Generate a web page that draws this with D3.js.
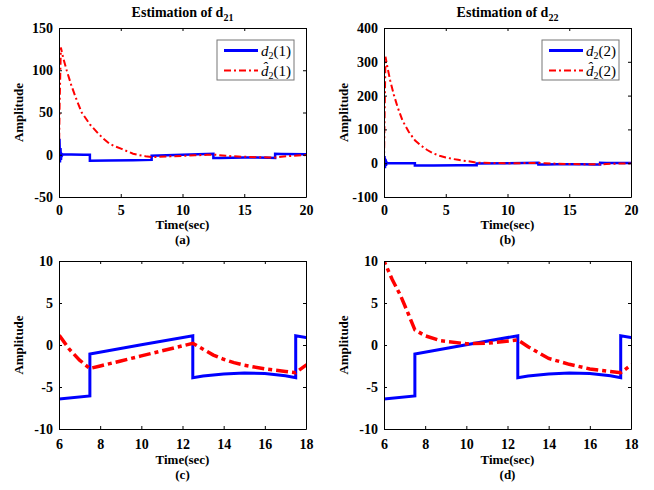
<!DOCTYPE html>
<html>
<head>
<meta charset="utf-8">
<script src="https://cdn.jsdelivr.net/npm/d3@7"></script>
<style>
  body { margin: 0; background: #fff; }
  text { font-family: "Liberation Serif", "Times New Roman", serif; }
</style>
</head>
<body>
<div id="vis"></div>
<script>
// true disturbance, start-up spike differs per component, the rest is shared
var spike21 = [[0, 0], [0.04, 19], [0.08, -9], [0.12, 8], [0.16, -6], [0.2, 2], [0.25, -1], [0.3, 0.3]];
var spike22 = [[0, 0], [0.04, 21], [0.08, -15], [0.12, 12], [0.16, -8], [0.2, 3], [0.25, -1], [0.3, 0.3]];
var dTail = [[1, 0.2], [2, 0], [2.5, -0.1], [2.5, -7], [4, -6.8], [6, -6.43], [7.5, -6.07],
             [7.5, -1.07], [10, 0.02], [12.5, 1.1], [12.5, -3.9], [13, -3.7], [14, -3.45],
             [15, -3.33], [16, -3.4], [17, -3.65], [17.5, -3.9], [17.5, 1.1], [18, 0.9], [20, 0.6]];

// estimates
var est21 = [[0, 0], [0.05, 60], [0.15, 127], [0.35, 114], [0.62, 100], [1, 82], [1.4, 66], [1.84, 50],
             [2.5, 36], [3.18, 25], [3.6, 19], [4.1, 13], [4.6, 9.5], [5.07, 7], [5.5, 4.2], [6, 1.2],
             [6.5, -0.5], [7, -1.8], [7.5, -2.8], [8, -2.5], [9, -1.9], [10, -1.3], [11, -0.7],
             [12, -0.1], [12.5, 0.2], [13, -0.5], [13.5, -1.2], [14, -1.7], [14.5, -2.1], [15, -2.4],
             [16, -2.85], [17, -3.15], [17.5, -3.3], [18, -2.4], [19, -1.1], [20, -0.4]];
var est22 = [[0, 0], [0.05, 150], [0.12, 315], [0.3, 280], [0.5, 245], [0.8, 202], [1.1, 166], [1.5, 126],
             [2, 93], [2.5, 68], [3, 52], [3.5, 39], [4, 29], [4.5, 22], [5, 17], [5.5, 13], [6, 10],
             [6.4, 7.8], [6.8, 5.9], [7.2, 3.6], [7.5, 1.8], [8, 1.1], [8.75, 0.5], [10, 0.15], [11, 0.2],
             [12.5, 0.6], [13, -0.2], [14, -1.6], [15, -2.3], [16, -2.85], [17, -3.15], [17.5, -3.3],
             [18, -2.4], [19, -1.1], [20, -0.4]];

var d21 = spike21.concat(dTail),
    d22 = spike22.concat(dTail);

var xTicksFull = [0, 5, 10, 15, 20],
    xTicksZoom = [6, 8, 10, 12, 14, 16, 18],
    yTicksA = [-50, 0, 50, 100, 150],
    yTicksB = [-100, 0, 100, 200, 300, 400],
    yTicksZoom = [-10, -5, 0, 5, 10];

var svg = d3.select("#vis").append("svg").attr("width", 654).attr("height", 490);
var defs = svg.append("defs");

var panels = [
  {id: "a", x0: 59, x1: 306, y0: 28, y1: 197, xd: [0, 20], yd: [-50, 150], xt: xTicksFull, yt: yTicksA,
   d: d21, e: est21, title: "21", leg: "1", big: false},
  {id: "b", x0: 384, x1: 631, y0: 28, y1: 197, xd: [0, 20], yd: [-100, 400], xt: xTicksFull, yt: yTicksB,
   d: d22, e: est22, title: "22", leg: "2", big: false},
  {id: "c", x0: 59, x1: 306, y0: 261, y1: 429, xd: [6, 18], yd: [-10, 10], xt: xTicksZoom, yt: yTicksZoom,
   d: d21, e: est21, big: true},
  {id: "d", x0: 384, x1: 631, y0: 261, y1: 429, xd: [6, 18], yd: [-10, 10], xt: xTicksZoom, yt: yTicksZoom,
   d: d22, e: est22, big: true}
];

panels.forEach(function (p) {
  var x = d3.scaleLinear().domain(p.xd).range([p.x0, p.x1]),
      y = d3.scaleLinear().domain(p.yd).range([p.y1, p.y0]);
  var g = svg.append("g");

  defs.append("clipPath").attr("id", "clip" + p.id)
    .append("rect").attr("x", p.x0).attr("y", p.y0).attr("width", p.x1 - p.x0).attr("height", p.y1 - p.y0);

  var line = d3.line().x(function (d) { return x(d[0]); }).y(function (d) { return y(d[1]); });

  var lines = g.append("g").attr("clip-path", "url(#clip" + p.id + ")");
  lines.append("path").datum(p.d).attr("d", line)
    .attr("fill", "none").attr("stroke", "#0000ff").attr("stroke-width", p.big ? 3 : 2.5);
  lines.append("path").datum(p.e).attr("d", line)
    .attr("fill", "none").attr("stroke", "#ff0000").attr("stroke-width", p.big ? 3.5 : 2)
    .attr("stroke-dasharray", p.big ? "12,4,4,4" : "7,3,2,3");

  var pad = p.big ? 10 : 8;
  var fmt = function (d) { return d; };
  g.append("g").attr("transform", "translate(0," + p.y1 + ")")
    .call(d3.axisBottom(x).tickValues(p.xt).tickSize(-3).tickSizeOuter(0).tickPadding(pad).tickFormat(fmt));
  g.append("g").attr("transform", "translate(0," + p.y0 + ")")
    .call(d3.axisTop(x).tickValues(p.xt).tickSize(-3).tickSizeOuter(0).tickFormat(""));
  g.append("g").attr("transform", "translate(" + p.x0 + ",0)")
    .call(d3.axisLeft(y).tickValues(p.yt).tickSize(-3).tickSizeOuter(0).tickPadding(6).tickFormat(fmt));
  g.append("g").attr("transform", "translate(" + p.x1 + ",0)")
    .call(d3.axisRight(y).tickValues(p.yt).tickSize(-3).tickSizeOuter(0).tickFormat(""));

  g.selectAll(".tick text").style("font-family", "Liberation Serif").style("font-weight", "bold")
    .style("font-size", "14px").attr("fill", "#000");
  g.selectAll(".domain, .tick line").attr("stroke", "#000");

  var cx = (p.x0 + p.x1) / 2;
  g.append("text").attr("x", cx).attr("y", p.big ? 464 : 229).attr("text-anchor", "middle")
    .style("font-weight", "bold").style("font-size", "13px").text("Time(sec)");
  g.append("text").attr("x", cx).attr("y", p.big ? 479 : 244).attr("text-anchor", "middle")
    .style("font-weight", "bold").style("font-size", "13px").text("(" + p.id + ")");
  g.append("text").attr("transform", "translate(" + (p.x0 - 36) + "," + ((p.y0 + p.y1) / 2) + ") rotate(-90)")
    .attr("text-anchor", "middle").style("font-weight", "bold").style("font-size", "13px").text("Amplitude");

  if (p.title) {
    var t = g.append("text").attr("x", cx).attr("y", 17).attr("text-anchor", "middle")
      .style("font-weight", "bold").style("font-size", "14px");
    t.append("tspan").text("Estimation of d");
    t.append("tspan").attr("dy", 4).style("font-size", "10px").text(p.title);

    // legend
    var lx = p.x1 - 89, ly = 40;
    var lg = g.append("g");
    lg.append("rect").attr("x", lx).attr("y", ly).attr("width", 77).attr("height", 40)
      .attr("fill", "#fff").attr("stroke", "#777").attr("stroke-width", 1);
    [0, 1].forEach(function (i) {
      var yy = ly + 10.5 + i * 20;
      lg.append("line").attr("x1", lx + 7).attr("x2", lx + 41).attr("y1", yy).attr("y2", yy)
        .attr("stroke", i ? "#ff0000" : "#0000ff").attr("stroke-width", i ? 2 : 3)
        .attr("stroke-dasharray", i ? "7,3,2,3" : null);
      var tx = lg.append("text").attr("x", lx + 44).attr("y", yy + 5).style("font-size", "15px");
      tx.append("tspan").style("font-style", "italic").text(i ? "d\u0302" : "d");
      tx.append("tspan").attr("dy", 3).style("font-size", "10px").text("2");
      tx.append("tspan").attr("dy", -3).text("(" + p.leg + ")");
    });
  }
});
</script>
</body>
</html>
